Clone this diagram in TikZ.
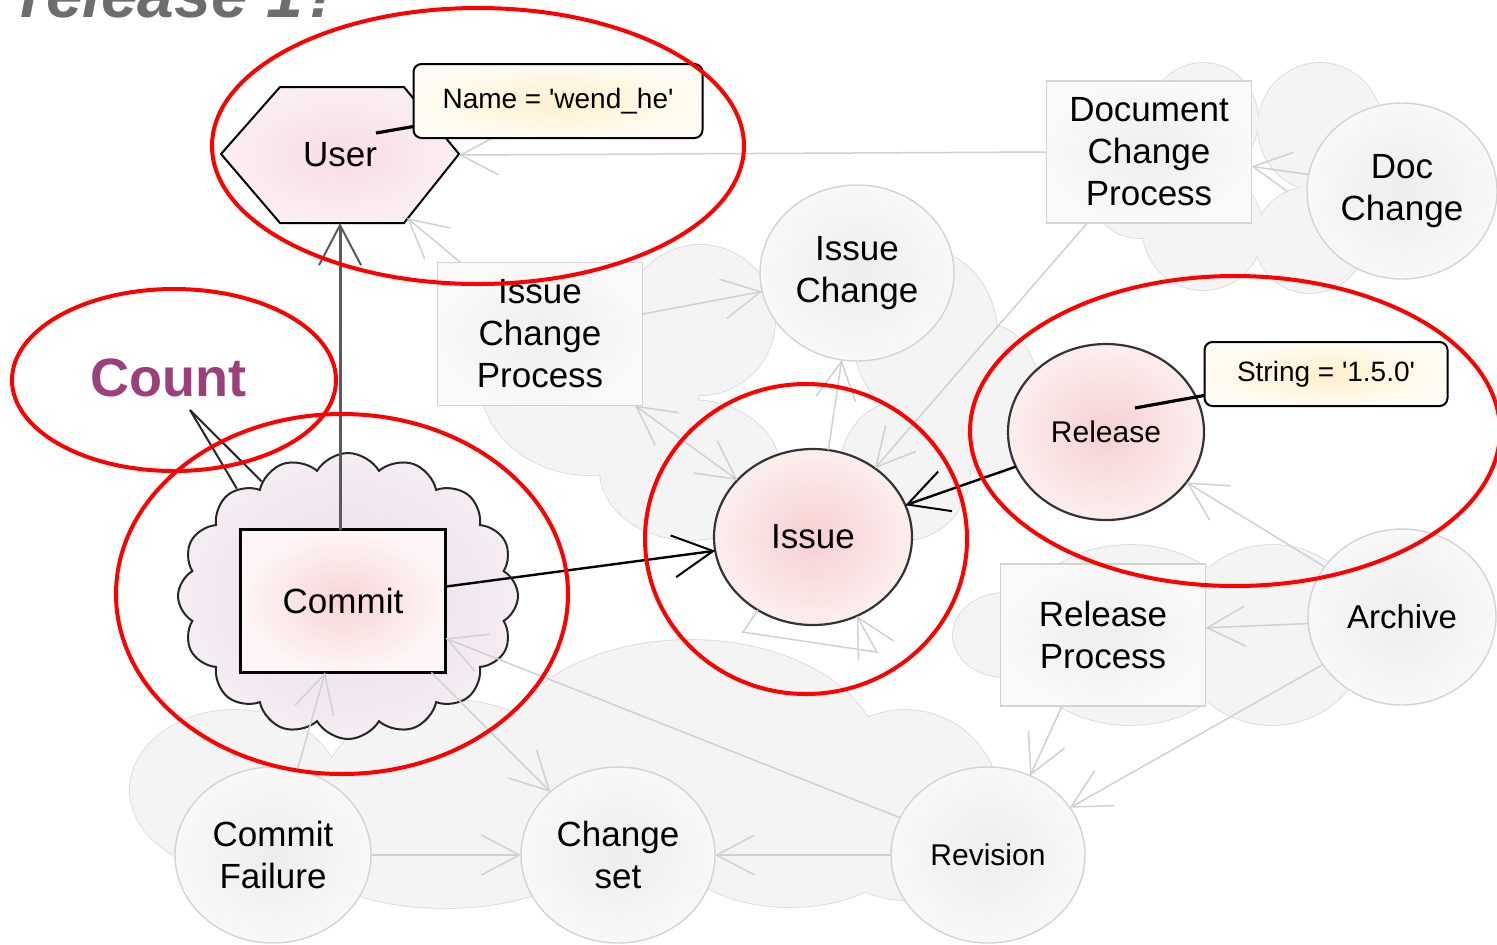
\documentclass[tikz,border=0pt]{standalone}
\usepackage{fontspec}
\setmainfont{Liberation Sans}
\usetikzlibrary{arrows.meta,shapes.geometric,shapes.symbols,calc}

\definecolor{nodeedge}{HTML}{D3D3D3}
\definecolor{cloudedge}{HTML}{DCDCDC}
\definecolor{cloudfill}{HTML}{F4F4F4}
\definecolor{linkgray}{HTML}{D0D0D0}
\definecolor{ringred}{HTML}{FF0000}
\definecolor{countcol}{HTML}{9B3F7D}
\definecolor{titlegray}{HTML}{6D6D6D}
\definecolor{grayin}{HTML}{EDEDED}
\definecolor{grayout}{HTML}{F8F8F8}
\definecolor{boxin}{HTML}{EEEEEE}
\definecolor{boxout}{HTML}{F9F9F9}
\definecolor{pinkin}{HTML}{F7D0D0}
\definecolor{pinkout}{HTML}{FCEEEE}
\definecolor{commitin}{HTML}{F8D4D4}
\definecolor{commitout}{HTML}{FEF6F6}
\definecolor{userin}{HTML}{F8DCE6}
\definecolor{userout}{HTML}{FAEEF3}
\definecolor{lavin}{HTML}{EBDDE8}
\definecolor{lavout}{HTML}{F4EDF2}
\definecolor{notein}{HTML}{FFF0CC}
\definecolor{noteout}{HTML}{FFFCF3}
\definecolor{darkline}{HTML}{5A5A5A}

\newcommand\lblfont{\fontsize{17.5}{21}\selectfont}
\newcommand\lblsmall{\fontsize{15}{18}\selectfont}
\newcommand\notefont{\fontsize{14}{17}\selectfont}

\begin{document}
\begin{tikzpicture}[x=0.5pt,y=-0.5pt,
  graynode/.style={ellipse, draw=nodeedge, line width=0.7pt, inner color=grayin,
    outer color=grayout, inner sep=0pt, outer sep=0pt, font=\lblfont, align=center},
  graybox/.style={rectangle, draw=nodeedge, line width=0.8pt, inner color=boxin,
    outer color=boxout, inner sep=0pt, outer sep=0pt, font=\lblfont, align=center,
    minimum width=102.5pt, minimum height=71pt},
  pinknode/.style={ellipse, draw=black!80, line width=1.1pt, inner color=pinkin,
    outer color=pinkout, inner sep=0pt, outer sep=0pt, align=center},
  notebox/.style={rectangle, rounded corners=4pt, draw=black, line width=1pt,
    inner color=notein, outer color=noteout, inner sep=0pt, outer sep=0pt, font=\notefont},
  grayarrow/.style={draw=linkgray, line width=0.75pt,
    -{Straight Barb[length=19pt,width=20pt,line width=0.75pt]}},
  grayboth/.style={draw=linkgray, line width=0.75pt,
    {Straight Barb[length=19pt,width=20pt,line width=0.75pt]}-{Straight Barb[length=19pt,width=20pt,line width=0.75pt]}},
  blackarrow/.style={draw=black, line width=1.2pt,
    -{Straight Barb[length=20pt,width=21pt,line width=1pt]}},
  noteline/.style={draw=black, line width=1.6pt},
  ring/.style={draw=ringred, line width=2pt},
  cloudlobe/.style={draw=cloudedge, line width=0.9pt},
  cloudcover/.style={fill=cloudfill}
]
\useasboundingbox (0,0) rectangle (1497,944);
\clip (0,0) rectangle (1497,944);

% ---- background clouds grouping the secondary concepts ----
% each cloud: outline every lobe first, then fill every lobe to keep only the outer rim
\foreach \cx/\cy/\rx/\ry in {1203/120/55/57, 1320/127/62/64, 1140/200/45/38,
    1203/230/60/60, 1310/240/55/53}{
  \draw[cloudlobe] (\cx,\cy) ellipse [x radius=\rx, y radius=\ry];}
\foreach \cx/\cy/\rx/\ry in {1203/120/55/57, 1320/127/62/64, 1140/200/45/38,
    1203/230/60/60, 1310/240/55/53}{
  \fill[cloudcover] (\cx,\cy) ellipse [x radius=\rx, y radius=\ry];}

\foreach \cx/\cy/\rx/\ry in {700/320/75/75, 590/380/110/95, 690/470/90/70,
    925/335/72/85, 905/470/65/70, 990/400/50/75}{
  \draw[cloudlobe] (\cx,\cy) ellipse [x radius=\rx, y radius=\ry];}
\foreach \cx/\cy/\rx/\ry in {700/320/75/75, 590/380/110/95, 690/470/90/70,
    925/335/72/85, 905/470/65/70, 990/400/50/75}{
  \fill[cloudcover] (\cx,\cy) ellipse [x radius=\rx, y radius=\ry];}

\foreach \cx/\cy/\rx/\ry in {235/790/105/80, 450/800/130/100, 690/760/190/120,
    905/805/95/95, 445/850/140/58, 790/850/110/57}{
  \draw[cloudlobe] (\cx,\cy) ellipse [x radius=\rx, y radius=\ry];}
\foreach \cx/\cy/\rx/\ry in {235/790/105/80, 450/800/130/100, 690/760/190/120,
    905/805/95/95, 445/850/140/58, 790/850/110/57}{
  \fill[cloudcover] (\cx,\cy) ellipse [x radius=\rx, y radius=\ry];}

\foreach \cx/\cy/\rx/\ry in {1130/635/115/90, 1272/635/95/90, 1005/635/52/42}{
  \draw[cloudlobe] (\cx,\cy) ellipse [x radius=\rx, y radius=\ry];}
\foreach \cx/\cy/\rx/\ry in {1130/635/115/90, 1272/635/95/90, 1005/635/52/42}{
  \fill[cloudcover] (\cx,\cy) ellipse [x radius=\rx, y radius=\ry];}

% ---- title (partly above the page) ----
\node[anchor=base west, inner sep=0pt, text=titlegray,
  font=\fontsize{33}{33}\selectfont\bfseries\itshape] (title) at (20,17) {release 1?};

% ---- secondary concepts ----
\node[graybox] (dcp) at (1149,152) {Document\\Change\\Process};
\node[graynode, minimum width=95pt, minimum height=88pt] (docchange) at (1402,191) {Doc\\Change};
\node[graybox, minimum height=71.5pt] (icp) at (540,334) {Issue\\Change\\Process};
\node[graynode, minimum width=97pt, minimum height=88pt] (issuechange) at (857,273) {Issue\\Change};
\node[graybox] (relproc) at (1103,635) {Release\\Process};
\node[graynode, minimum width=94pt, minimum height=88pt, font=\fontsize{16.5}{20}\selectfont] (archive) at (1402,617) {Archive};
\node[graynode, minimum width=98pt, minimum height=88pt] (cfail) at (273,855) {Commit\\Failure};
\node[graynode, minimum width=97pt, minimum height=88pt] (changeset) at (618,855) {Change\\set};
\node[graynode, minimum width=97pt, minimum height=88pt, font=\lblsmall] (revision) at (988,855) {Revision};

% ---- main concepts ----
\draw[draw=black, line width=1pt, inner color=userin, outer color=userout]
  (221,154) -- (280,87) -- (404,87) -- (459,154) -- (404,223) -- (280,223) -- cycle;
\node[minimum width=119pt, minimum height=68pt, inner sep=0pt, outer sep=0pt, font=\lblfont]
  (user) at (340,155) {User};
\coordinate (userbr) at (407,218);

\node[cloud, cloud puffs=16, cloud puff arc=120, cloud ignores aspect,
  minimum width=170pt, minimum height=143pt, draw=black!85, line width=1pt,
  inner color=lavin, outer color=lavout] (cloud) at (348,596) {};
\node[rectangle, draw=black, line width=1.2pt, inner color=commitin, outer color=commitout,
  minimum width=102.5pt, minimum height=71.5pt, inner sep=0pt, outer sep=0pt, font=\lblfont]
  (commit) at (343,601) {Commit};

\node[pinknode, minimum width=99pt, minimum height=88pt, font=\lblfont] (issue) at (813,537) {Issue};
\node[pinknode, minimum width=98pt, minimum height=88pt, font=\lblsmall] (release) at (1106,432) {Release};

% ---- count callout ----
\node[inner sep=0pt, text=countcol, font=\fontsize{27}{27}\selectfont\bfseries] (count) at (168,378) {Count};
\coordinate (ctip) at (190,410);
\draw[draw=black!85, line width=1pt] (ctip) -- (cloud.136);
\draw[draw=black!85, line width=1pt] (ctip) -- (cloud.127);

% ---- light relations ----
\draw[grayarrow] (dcp.west) -- (user.east);
\draw[grayarrow] (docchange.170) -- (dcp.352);
\draw[grayarrow] (dcp.229) -- (issue.48);
\draw[grayarrow] (icp.11) -- (issuechange.191);
\draw[grayarrow] (issue.80) -- (issuechange.260);
\draw[grayboth] (icp.323) -- (issue.143);
\draw[grayarrow] (icp.138) -- (userbr);
\draw[grayarrow] (issue.233) -- ++(-15,22) -- ++(134,20) -- (issue.299);
\draw[grayarrow] (commit.321) -- (changeset.137);
\draw[grayarrow] (revision.157) -- (commit.340);
\draw[grayarrow] (cfail.74) -- (commit.256);
\draw[grayarrow] (cfail.east) -- (changeset.west);
\draw[grayarrow] (revision.west) -- (changeset.east);
\draw[grayarrow] (relproc.240) -- (revision.62);
\draw[grayarrow] (archive.211) -- (revision.30);
\draw[grayarrow] (archive.184) -- (relproc.4);
\draw[grayarrow] (archive.147) -- (release.328);

% ---- highlighted relations ----
\draw[draw=darkline, line width=1.5pt,
  -{Straight Barb[length=20pt,width=21pt,line width=1pt]}] (commit.north -| user.south) -- (user.south);
\draw[blackarrow] (commit.8) -- (issue.188);
\draw[blackarrow] (release.201) -- (issue.19);

% ---- attribute notes ----
\node[notebox, minimum width=144.5pt, minimum height=37pt] (usernote) at (558,101)
  {Name = \textquotesingle wend\_he\textquotesingle};
\draw[noteline] ($(user.center)+(36,-22)$) -- (usernote.190);
\node[notebox, minimum width=121.5pt, minimum height=32pt] (relnote) at (1326,374)
  {String = \textquotesingle 1.5.0\textquotesingle};
\draw[noteline] ($(release.center)+(29,-24)$) -- (relnote.190);

% ---- red highlight rings ----
\draw[ring] (478,146) ellipse [x radius=266, y radius=138];
\draw[ring] (174,380) ellipse [x radius=162, y radius=91];
\draw[ring] (342,594) ellipse [x radius=226, y radius=180];
\draw[ring] (806,539) ellipse [x radius=161, y radius=155];
\draw[ring] (1235,431) ellipse [x radius=265, y radius=155];
\end{tikzpicture}
\end{document}
